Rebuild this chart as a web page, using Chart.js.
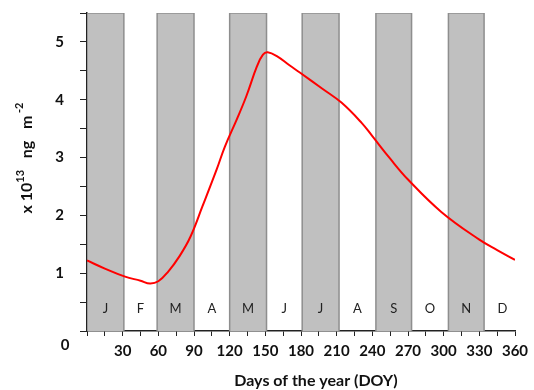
<!DOCTYPE html>
<html>
<head>
<meta charset="utf-8">
<script src="https://cdn.jsdelivr.net/npm/chart.js@4"></script>
<style>
  body { margin: 0; background: #fff; }
</style>
</head>
<body>
<canvas id="myChart" width="534" height="390"></canvas>
<script>
// day of year and flux (x 10^13 ng m^-2)
const days = [0, 15, 32, 45, 53, 60, 68, 78, 87, 97, 109, 116, 126, 134, 143, 148, 152, 160, 170, 179, 198, 214, 231, 240, 255, 270, 298, 330, 345, 360];
const flux = [1.22, 1.08, 0.94, 0.87, 0.82, 0.86, 1.02, 1.30, 1.63, 2.15, 2.79, 3.19, 3.66, 4.06, 4.58, 4.78, 4.82, 4.75, 4.60, 4.47, 4.19, 3.95, 3.60, 3.37, 2.98, 2.62, 2.06, 1.58, 1.40, 1.23];

const monthStart = [0, 31, 59, 90, 120, 151, 181, 212, 243, 273, 304, 334, 365];
const monthLetters = ['J', 'F', 'M', 'A', 'M', 'J', 'J', 'A', 'S', 'O', 'N', 'D'];
const shadedMonths = [0, 2, 4, 6, 8, 10];
const barTop = 5.5;
const letterLevel = 0.38;

const xLabelEvery = 30;
const yLabels = [1, 2, 3, 4, 5];

const fontFam = 'Lato, "Open Sans", sans-serif';

const bars = shadedMonths.map(m => ({
  data: [
    { x: monthStart[m], y: 0 },
    { x: monthStart[m], y: barTop },
    { x: monthStart[m + 1], y: barTop },
    { x: monthStart[m + 1], y: 0 }
  ],
  borderColor: '#8e8e8e',
  borderWidth: 1.5,
  backgroundColor: '#c0c0c0',
  fill: 'origin',
  pointRadius: 0,
  tension: 0,
  order: 2
}));

const textPlugin = {
  id: 'extraText',
  afterDraw(chart) {
    const c = chart.ctx;
    const xs = chart.scales.x, ys = chart.scales.y;
    const area = chart.chartArea;
    c.save();
    // month letters
    c.fillStyle = '#222';
    c.font = '13px ' + fontFam;
    c.textAlign = 'center';
    c.textBaseline = 'middle';
    monthLetters.forEach((l, i) => {
      const mid = (monthStart[i] + monthStart[i + 1]) / 2;
      c.fillText(l, xs.getPixelForValue(mid), ys.getPixelForValue(letterLevel));
    });
    // lone zero at the corner
    c.fillStyle = '#111';
    c.font = 'bold 15px ' + fontFam;
    c.fillText('0', area.left - 22, area.bottom + 14);
    // x title
    c.font = 'bold 16px ' + fontFam;
    c.fillText('Days of the year (DOY)', (area.left + area.right) / 2 + 15, 381);
    // y title with superscripts
    const parts = [
      ['x 10', 'bold 16px ', 0],
      ['13', 'bold 11px ', -7],
      ['   ng   m', 'bold 16px ', 0],
      [' -2', 'bold 11px ', -8]
    ];
    let total = 0;
    parts.forEach(p => { c.font = p[1] + fontFam; total += c.measureText(p[0]).width; });
    c.translate(27, 158);
    c.rotate(-Math.PI / 2);
    c.textAlign = 'left';
    let pos = -total / 2;
    parts.forEach(p => {
      c.font = p[1] + fontFam;
      c.fillText(p[0], pos, p[2]);
      pos += c.measureText(p[0]).width;
    });
    c.restore();
  }
};

const ctx = document.getElementById('myChart');

new Chart(ctx, {
  type: 'line',
  data: {
    datasets: [
      {
        data: days.map((d, i) => ({ x: d, y: flux[i] })),
        borderColor: '#ff0000',
        borderWidth: 2,
        pointRadius: 0,
        fill: false,
        tension: 0.4,
        order: 1
      },
      ...bars
    ]
  },
  options: {
    responsive: false,
    animation: false,
    layout: { padding: { top: 13, right: 19, left: 0, bottom: 0 } },
    plugins: { legend: { display: false }, tooltip: { enabled: false } },
    scales: {
      x: {
        type: 'linear',
        min: 0,
        max: 360,
        afterFit(s) { s.height = 59; s.paddingLeft = 0; s.paddingRight = 0; },
        border: { color: '#222', width: 1.5 },
        grid: { drawOnChartArea: false, drawTicks: true, tickLength: 5, color: '#222' },
        ticks: {
          stepSize: 15,
          autoSkip: false,
          maxRotation: 0,
          padding: 6,
          color: '#111',
          font: { family: fontFam, size: 15, weight: 'bold' },
          callback: v => (v > 0 && v % xLabelEvery === 0) ? String(v) : ''
        }
      },
      y: {
        min: 0,
        max: 5.5,
        afterFit(s) { s.width = 87; s.paddingTop = 0; s.paddingBottom = 0; },
        border: { color: '#222', width: 1.5 },
        grid: { drawOnChartArea: false, drawTicks: true, tickLength: 7, color: '#222' },
        ticks: {
          stepSize: 0.5,
          autoSkip: false,
          padding: 16,
          color: '#111',
          font: { family: fontFam, size: 15, weight: 'bold' },
          callback: v => yLabels.includes(v) ? String(v) : ''
        }
      }
    }
  },
  plugins: [textPlugin]
});
</script>
</body>
</html>
